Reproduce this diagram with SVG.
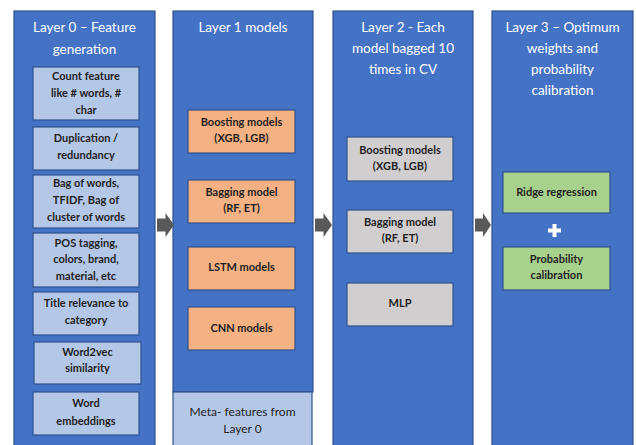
<svg xmlns="http://www.w3.org/2000/svg" width="636" height="445" viewBox="0 0 636 445">
  <style>
    .layer { fill: #4472C4; stroke: #2F528F; stroke-width: 1.2; }
    .head { fill: #ffffff; font-family: Lato, "Liberation Sans", sans-serif; font-size: 13.5px; text-anchor: middle; }
    .box { stroke: #2F528F; stroke-width: 1.2; }
    .feat { fill: #B4C7E7; }
    .l1 { fill: #F4B183; }
    .l2 { fill: #D0CECE; }
    .l3 { fill: #A9D18E; }
    .lbl { fill: #1f1f1f; font-family: Lato, "Liberation Sans", sans-serif; font-size: 11px; font-weight: bold; text-anchor: middle; }
    .meta { fill: #1f1f1f; font-family: Lato, "Liberation Sans", sans-serif; font-size: 12px; text-anchor: middle; }
    .arrow { fill: #595959; }
  </style>

  <!-- Layer 0: feature generation -->
  <g id="layer0">
    <rect class="layer" x="14" y="11" width="141" height="440"/>
    <text class="head" x="84.5" y="32">Layer 0 – Feature</text>
    <text class="head" x="84.5" y="54">generation</text>
  </g>
  <g id="count-feature">
    <rect class="box feat" x="33" y="67" width="106" height="53"/>
    <text class="lbl" x="86" y="80">Count feature</text>
    <text class="lbl" x="86" y="97">like # words, #</text>
    <text class="lbl" x="86" y="114">char</text>
  </g>
  <g id="duplication">
    <rect class="box feat" x="33" y="127" width="106" height="43"/>
    <text class="lbl" x="86" y="142">Duplication /</text>
    <text class="lbl" x="86" y="159">redundancy</text>
  </g>
  <g id="bag-of-words">
    <rect class="box feat" x="33" y="175" width="106" height="53"/>
    <text class="lbl" x="86" y="187">Bag of words,</text>
    <text class="lbl" x="86" y="204">TFIDF, Bag of</text>
    <text class="lbl" x="86" y="221">cluster of words</text>
  </g>
  <g id="pos-tagging">
    <rect class="box feat" x="33" y="233" width="106" height="54"/>
    <text class="lbl" x="86" y="247">POS tagging,</text>
    <text class="lbl" x="86" y="263">colors, brand,</text>
    <text class="lbl" x="86" y="280">material, etc</text>
  </g>
  <g id="title-relevance">
    <rect class="box feat" x="33" y="292" width="106" height="43"/>
    <text class="lbl" x="86" y="307">Title relevance to</text>
    <text class="lbl" x="86" y="324">category</text>
  </g>
  <g id="word2vec">
    <rect class="box feat" x="34" y="342" width="107" height="42"/>
    <text class="lbl" x="87.5" y="356">Word2vec</text>
    <text class="lbl" x="87.5" y="372">similarity</text>
  </g>
  <g id="word-embeddings">
    <rect class="box feat" x="33" y="392" width="106" height="43"/>
    <text class="lbl" x="86" y="407">Word</text>
    <text class="lbl" x="86" y="425">embeddings</text>
  </g>

  <!-- Layer 1: first-level models -->
  <g id="layer1">
    <rect class="layer" x="173" y="11" width="140" height="381"/>
    <text class="head" x="243" y="32">Layer 1 models</text>
  </g>
  <g id="l1-boosting">
    <rect class="box l1" x="188" y="110" width="107" height="43"/>
    <text class="lbl" x="241.5" y="126">Boosting models</text>
    <text class="lbl" x="241.5" y="142">(XGB, LGB)</text>
  </g>
  <g id="l1-bagging">
    <rect class="box l1" x="188" y="180" width="107" height="43"/>
    <text class="lbl" x="241.5" y="196">Bagging model</text>
    <text class="lbl" x="241.5" y="212">(RF, ET)</text>
  </g>
  <g id="l1-lstm">
    <rect class="box l1" x="188" y="247" width="107" height="43"/>
    <text class="lbl" x="241.5" y="271">LSTM models</text>
  </g>
  <g id="l1-cnn">
    <rect class="box l1" x="188" y="307" width="107" height="43"/>
    <text class="lbl" x="241.5" y="332">CNN models</text>
  </g>
  <g id="meta-features">
    <rect class="box feat" x="173" y="392" width="139" height="60"/>
    <text class="meta" x="242.5" y="416">Meta- features from</text>
    <text class="meta" x="242.5" y="433">Layer 0</text>
  </g>

  <!-- Layer 2: bagged models -->
  <g id="layer2">
    <rect class="layer" x="333" y="11" width="140" height="440"/>
    <text class="head" x="403" y="32">Layer 2 - Each</text>
    <text class="head" x="403" y="53">model bagged 10</text>
    <text class="head" x="403" y="74">times in CV</text>
  </g>
  <g id="l2-boosting">
    <rect class="box l2" x="347" y="137" width="106" height="44"/>
    <text class="lbl" x="400" y="154">Boosting models</text>
    <text class="lbl" x="400" y="170">(XGB, LGB)</text>
  </g>
  <g id="l2-bagging">
    <rect class="box l2" x="347" y="210" width="106" height="43"/>
    <text class="lbl" x="400" y="226">Bagging model</text>
    <text class="lbl" x="400" y="242">(RF, ET)</text>
  </g>
  <g id="l2-mlp">
    <rect class="box l2" x="347" y="283" width="106" height="43"/>
    <text class="lbl" x="400" y="307">MLP</text>
  </g>

  <!-- Layer 3: weighting and calibration -->
  <g id="layer3">
    <rect class="layer" x="492" y="11" width="141" height="440"/>
    <text class="head" x="562.5" y="32">Layer 3 – Optimum</text>
    <text class="head" x="562.5" y="53">weights and</text>
    <text class="head" x="562.5" y="74">probability</text>
    <text class="head" x="562.5" y="95">calibration</text>
  </g>
  <g id="ridge">
    <rect class="box l3" x="503" y="172" width="107" height="41"/>
    <text class="lbl" x="556.5" y="196">Ridge regression</text>
  </g>
  <g id="plus">
    <rect x="548" y="228.5" width="13" height="4" fill="#ffffff"/>
    <rect x="552.5" y="224" width="4" height="13" fill="#ffffff"/>
  </g>
  <g id="calibration">
    <rect class="box l3" x="503" y="247" width="107" height="43"/>
    <text class="lbl" x="556.5" y="263">Probability</text>
    <text class="lbl" x="556.5" y="279">calibration</text>
  </g>

  <!-- Block arrows between layers -->
  <g id="connectors">
    <path class="arrow" d="M157,218.5 H165.5 V213 L174,225 L165.5,237 V231.5 H157 Z"/>
    <path class="arrow" d="M315,218.5 H323.5 V213 L332,225 L323.5,237 V231.5 H315 Z"/>
    <path class="arrow" d="M475,218.5 H483 V213 L491,225 L483,237 V231.5 H475 Z"/>
  </g>
</svg>
